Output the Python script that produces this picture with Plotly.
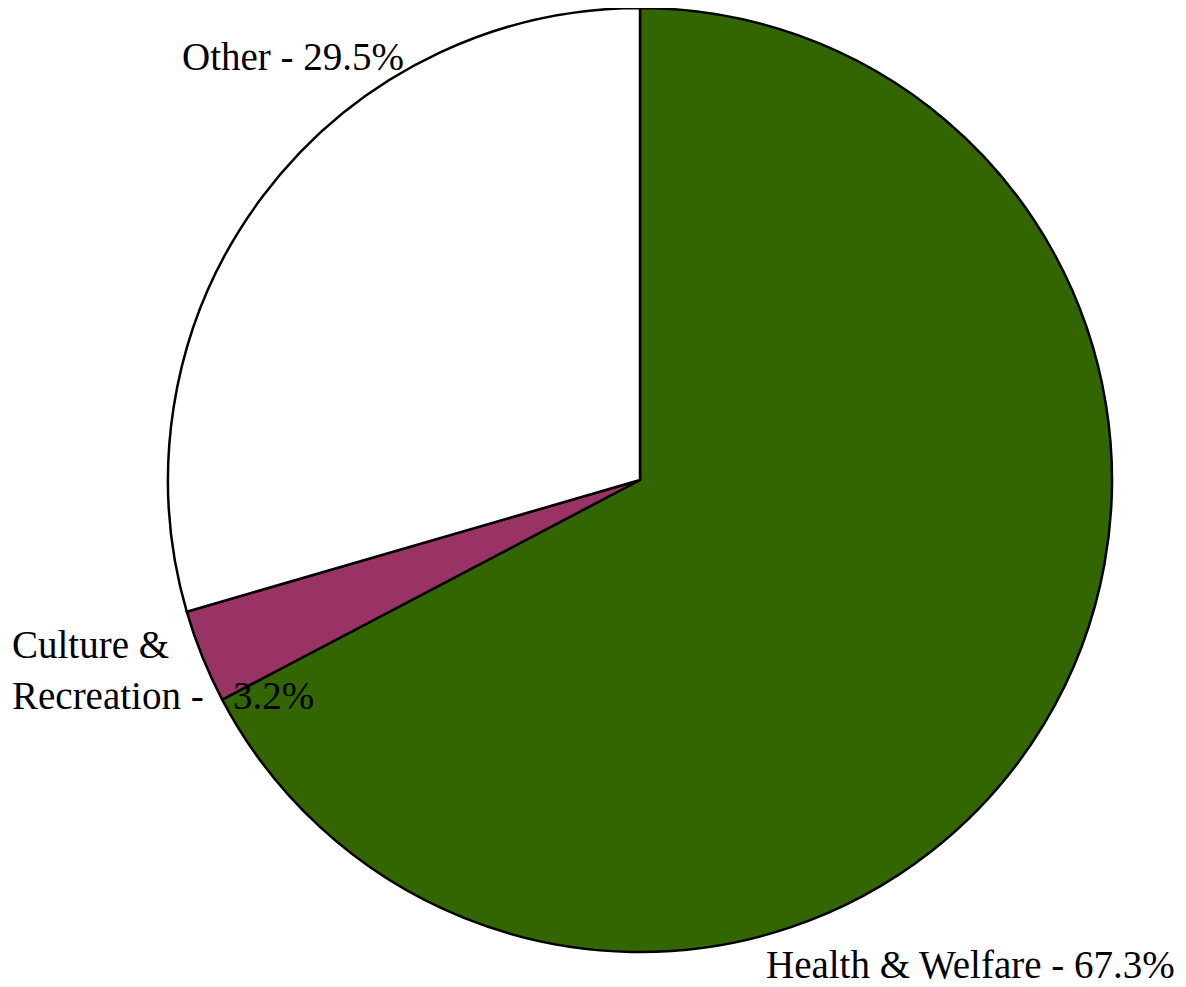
import plotly.graph_objects as go

labels = ["Health & Welfare", "Culture & Recreation", "Other"]
label_text = ["Health & Welfare", "Culture &<br>Recreation", "Other"]
label_sep = [" - ", " -&nbsp;&nbsp;&nbsp;", " - "]
values = [67.3, 3.2, 29.5]
colors = ["#336600", "#993366", "#ffffff"]

# page body has an 8px margin; figure sized to fit the 1186x987 window
OFF = 8
W, H = 1186 - OFF, 987 - OFF


def px_x(x):
    return (x - OFF) / W


def px_y(y):
    return 1 - (y - OFF) / H


fig = go.Figure(go.Pie(
    labels=labels,
    values=values,
    sort=False,
    direction="clockwise",
    rotation=0,
    marker=dict(colors=colors, line=dict(color="black", width=2.5)),
    textinfo="none",
    hoverinfo="label+percent",
    showlegend=False,
    domain=dict(x=[px_x(168), px_x(1112)], y=[px_y(952), px_y(8)]),
))

# label anchor positions (screen pixels): x-left, y-center
label_pos = [(764, 964), (10, 670), (180, 56)]
font = dict(family="Liberation Serif, Times New Roman, serif", size=39, color="black")
for txt, sep, v, (px, py) in zip(label_text, label_sep, values, label_pos):
    fig.add_annotation(
        x=px_x(px), y=px_y(py), xref="paper", yref="paper",
        text=f"{txt}{sep}{v}%", showarrow=False,
        xanchor="left", yanchor="middle", align="left", font=font,
    )

fig.update_layout(
    width=W, height=H,
    margin=dict(l=0, r=0, t=0, b=0),
    paper_bgcolor="white", plot_bgcolor="white",
)

fig.write_html("out.html")
